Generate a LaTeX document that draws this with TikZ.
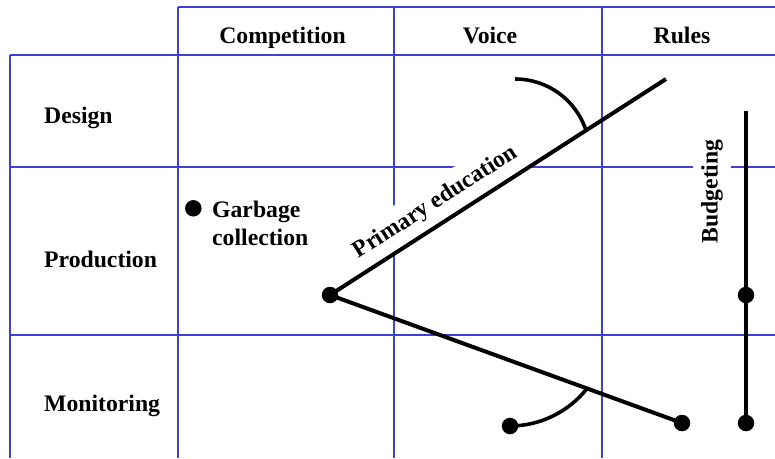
\documentclass[tikz,border=0pt]{standalone}
\usepackage{fontspec}
\setmainfont{Liberation Serif}
\definecolor{gridblue}{RGB}{64,64,216}
\begin{document}
\begin{tikzpicture}[x=1pt,y=-1pt,
  gridline/.style={draw=gridblue, line width=1.3pt},
  heavy/.style={draw=black, line width=4pt},
  curvestroke/.style={draw=black, line width=3.6pt},
  dot/.style={circle, fill=black, inner sep=0pt, minimum size=16.5pt},
  lbl/.style={font=\fontsize{23.7}{28.3}\selectfont\bfseries, inner sep=0pt},
  tag/.style={lbl, fill=white, inner xsep=3pt, inner ysep=9.5pt}]
\useasboundingbox (0,0) rectangle (775,458);
\fill[white] (0,0) rectangle (775,458);

% table grid
\draw[gridline] (178,7) -- (775,7);
\draw[gridline] (10,55) -- (775,55);
\draw[gridline] (10,167) -- (775,167);
\draw[gridline] (10,335) -- (775,335);
\draw[gridline] (10,55) -- (10,458);
\draw[gridline] (178,7) -- (178,458);
\draw[gridline] (394,7) -- (394,458);
\draw[gridline] (602,7) -- (602,458);

% column headers
\node[lbl, anchor=base] (competition) at (282.5,43) {Competition};
\node[lbl, anchor=base] (voice) at (490,43) {Voice};
\node[lbl, anchor=base] (rules) at (682,43) {Rules};

% row headers
\node[lbl, anchor=base west] (design) at (44,123) {Design};
\node[lbl, anchor=base west] (production) at (44,267.5) {Production};
\node[lbl, anchor=base west] (monitoring) at (44,411.5) {Monitoring};

% garbage collection point
\node[dot] (garbage) at (193.3,208.3) {};
\node[lbl, anchor=north west, align=left] (garbagetext) at (212,200.6) {Garbage\\collection};

% points and free ends
\node[dot] (hub) at (330,295) {};
\node[dot] (tail) at (682,423) {};
\node[dot] (hook) at (510,426) {};
\node[dot] (bmid) at (746,295) {};
\node[dot] (bbot) at (746,423) {};
\coordinate (peak) at (666,79);
\coordinate (btop) at (746,111);
\coordinate (upstart) at (515,79);
\coordinate (upmeet) at (586,130.4);
\coordinate (lowmeet) at (587,388.5);

% labels with white backing
\path (hub.center) -- (peak)
  node[tag, pos=0.348, sloped, anchor=south] (primary) {Primary education};
\node[tag, rotate=90, inner ysep=8.4pt] (budgeting) at (712,191.5) {Budgeting};

% heavy strokes
\draw[heavy] (hub.center) -- (peak);
\draw[heavy] (hub.center) -- (tail.center);
\draw[heavy] (btop) -- (bmid.center) -- (bbot.center);
\draw[curvestroke] (upstart) .. controls (547.2,79) and (575.7,99.4) .. (upmeet);
\draw[curvestroke] (hook.center) .. controls (540.4,426) and (569,411.5) .. (lowmeet);
\end{tikzpicture}
\end{document}
